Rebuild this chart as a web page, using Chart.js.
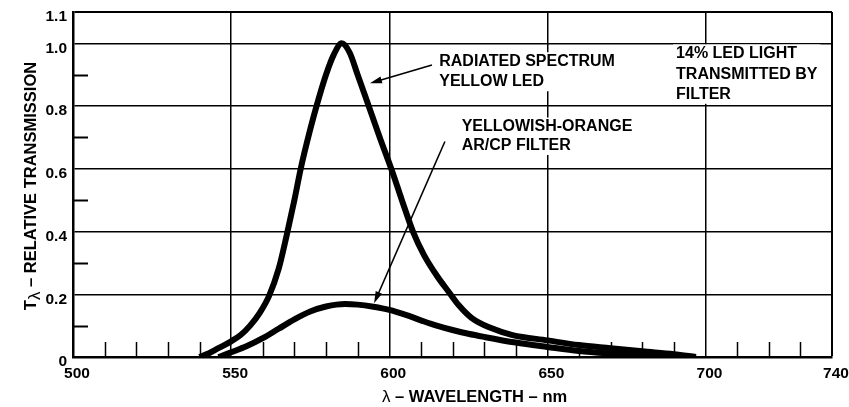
<!DOCTYPE html>
<html>
<head>
<meta charset="utf-8">
<title>Yellow LED spectrum</title>
<script src="https://cdn.jsdelivr.net/npm/chart.js@4.4.1/dist/chart.umd.min.js"></script>
<style>
  html, body { margin: 0; padding: 0; background: #fff; }
  #chart { display: block; }
</style>
</head>
<body>
<canvas id="chart" width="849" height="407"></canvas>
<script>
// relative transmission vs wavelength – yellow LED / yellowish-orange filter

const ledNm = [540, 543, 546, 550, 553, 556, 559, 562, 565, 567.5, 570, 572, 575, 577, 580, 582.5, 585, 587.5, 590, 593.5, 597, 601, 604, 607.5, 611, 615, 619, 622, 626, 632, 639, 650, 660, 670, 680, 690, 697];
const ledT  = [0, 0.012, 0.028, 0.05, 0.07, 0.1, 0.14, 0.195, 0.28, 0.385, 0.5, 0.6, 0.725, 0.8, 0.9, 0.965, 1.0, 0.97, 0.9, 0.8, 0.7, 0.59, 0.5, 0.4, 0.325, 0.26, 0.205, 0.165, 0.125, 0.093, 0.07, 0.053, 0.038, 0.028, 0.018, 0.009, 0];

const filterNm = [546, 550, 555, 560, 565, 570, 575, 580, 586, 590, 595, 600, 605, 610, 615, 620, 625, 630, 640, 650, 660, 670, 680, 690];
const filterT  = [0, 0.015, 0.035, 0.06, 0.09, 0.12, 0.145, 0.161, 0.169, 0.167, 0.16, 0.15, 0.135, 0.117, 0.1, 0.086, 0.074, 0.064, 0.046, 0.032, 0.019, 0.011, 0.005, 0];

const xTickLabels = [500, 550, 600, 650, 700, 740];
const yTickLabels = ['0', '0.2', '0.4', '0.6', '0.8', '1.0', '1.1'];

const FONT = '"Liberation Sans", Arial, Helvetica, sans-serif';

function toPoints(xs, ys) {
    return xs.map((x, i) => ({ x, y: ys[i] }));
}

// annotation anchors in data units (nm, T)
const notes = [
    { lines: ['RADIATED SPECTRUM', 'YELLOW LED'], nm: 615.8, t: 0.927, gap: 20 },
    { lines: ['YELLOWISH-ORANGE', 'AR/CP FILTER'], nm: 622.9, t: 0.719, gap: 18.5 },
    { lines: ['14% LED LIGHT', 'TRANSMITTED BY', 'FILTER'], nm: 690.7, t: 0.952, gap: 20.2 }
];
const arrows = [
    { fromNm: 613.5, fromT: 0.931, toNm: 593.9, toT: 0.873 },
    { fromNm: 617.6, fromT: 0.687, toNm: 595.2, toT: 0.171 }
];

const decorations = {
    id: 'decorations',
    beforeDatasetsDraw(chart) {
        const { ctx, chartArea, scales } = chart;
        const xs = scales.x, ys = scales.y;
        ctx.save();
        ctx.strokeStyle = '#000';
        // minor tick marks pointing into the plot
        ctx.lineWidth = 2;
        [0.1, 0.3, 0.5, 0.7, 0.9].forEach(v => {
            const y = Math.round(ys.getPixelForValue(v)) + 0.5;
            ctx.beginPath();
            ctx.moveTo(chartArea.left, y);
            ctx.lineTo(chartArea.left + 15, y);
            ctx.stroke();
        });
        ctx.lineWidth = 1.5;
        for (let v = 510; v < 740; v += 10) {
            if (v % 50 === 0) continue;
            const x = Math.round(xs.getPixelForValue(v)) + 0.5;
            ctx.beginPath();
            ctx.moveTo(x, chartArea.bottom);
            ctx.lineTo(x, chartArea.bottom - 15);
            ctx.stroke();
        }
        // white boxes behind the notes
        ctx.font = 'bold 16px ' + FONT;
        ctx.fillStyle = '#fff';
        notes.forEach(n => {
            const x = xs.getPixelForValue(n.nm);
            const y = ys.getPixelForValue(n.t);
            const w = Math.max(...n.lines.map(l => ctx.measureText(l).width));
            const h = n.gap * (n.lines.length - 1) + 12;
            ctx.fillRect(x - 3, y - 14, w + 6, h + 7);
        });
        ctx.restore();
    },
    afterDatasetsDraw(chart) {
        const { ctx, chartArea, scales } = chart;
        const xs = scales.x, ys = scales.y;
        ctx.save();
        ctx.fillStyle = '#000';
        ctx.strokeStyle = '#000';
        ctx.font = 'bold 16px ' + FONT;
        ctx.textBaseline = 'alphabetic';
        ctx.textAlign = 'left';
        notes.forEach(n => {
            const x = xs.getPixelForValue(n.nm);
            const y = ys.getPixelForValue(n.t);
            n.lines.forEach((l, i) => ctx.fillText(l, x, y + i * n.gap));
        });
        arrows.forEach(a => {
            const x0 = xs.getPixelForValue(a.fromNm), y0 = ys.getPixelForValue(a.fromT);
            const x1 = xs.getPixelForValue(a.toNm), y1 = ys.getPixelForValue(a.toT);
            const ang = Math.atan2(y1 - y0, x1 - x0);
            ctx.lineWidth = 1.6;
            ctx.beginPath();
            ctx.moveTo(x0, y0);
            ctx.lineTo(x1 - 8 * Math.cos(ang), y1 - 8 * Math.sin(ang));
            ctx.stroke();
            ctx.beginPath();
            ctx.moveTo(x1, y1);
            ctx.lineTo(x1 - 12 * Math.cos(ang) + 3.5 * Math.sin(ang), y1 - 12 * Math.sin(ang) - 3.5 * Math.cos(ang));
            ctx.lineTo(x1 - 12 * Math.cos(ang) - 3.5 * Math.sin(ang), y1 - 12 * Math.sin(ang) + 3.5 * Math.cos(ang));
            ctx.closePath();
            ctx.fill();
        });

        // axis titles (lambda drawn in regular weight, subscript on y)
        const bold = 'bold 16.5px ' + FONT;
        const thin = '17px ' + FONT;
        ctx.font = bold;
        const wT = ctx.measureText('T').width;
        const rest = ' \u2013 RELATIVE TRANSMISSION';
        const wRest = ctx.measureText(rest).width;
        ctx.font = thin;
        const wL = ctx.measureText('\u03bb').width;
        const total = wT + wL + wRest;
        const cy = (chartArea.top + chartArea.bottom) / 2 + 1.5;
        ctx.translate(36, cy);
        ctx.rotate(-Math.PI / 2);
        let px = -total / 2;
        ctx.font = bold;
        ctx.fillText('T', px, 0);
        px += wT;
        ctx.font = thin;
        ctx.fillText('\u03bb', px, 4);
        px += wL;
        ctx.font = bold;
        ctx.fillText(rest, px, 0);
        ctx.setTransform(1, 0, 0, 1, 0, 0);

        ctx.font = thin;
        ctx.fillText('\u03bb', 382, 401.5);
        const wl = ctx.measureText('\u03bb').width;
        ctx.font = bold;
        ctx.fillText(' \u2013 WAVELENGTH \u2013 nm', 382 + wl, 401.5);
        ctx.restore();
    }
};

function renderChart() {
    const ctx = document.getElementById('chart').getContext('2d');
    const lineStyle = {
        borderColor: '#000',
        borderWidth: 6,
        pointRadius: 0,
        fill: false,
        showLine: true,
        cubicInterpolationMode: 'monotone',
        borderJoinStyle: 'round'
    };
    new Chart(ctx, {
        type: 'scatter',
        data: {
            datasets: [
                Object.assign({ label: 'Radiated spectrum yellow LED', data: toPoints(ledNm, ledT) }, lineStyle),
                Object.assign({ label: 'Yellowish-orange AR/CP filter', data: toPoints(filterNm, filterT) }, lineStyle)
            ]
        },
        options: {
            responsive: false,
            animation: false,
            layout: { padding: { left: 0, top: 12, right: 17, bottom: 0 } },
            plugins: { legend: { display: false }, tooltip: { enabled: false } },
            scales: {
                x: {
                    type: 'linear',
                    min: 500,
                    max: 740,
                    afterFit: s => { s.height = 50; s.paddingRight = 0; s.paddingLeft = 0; },
                    afterBuildTicks: s => {
                        s.ticks = [];
                        for (let v = 500; v <= 740; v += 10) s.ticks.push({ value: v });
                    },
                    ticks: {
                        autoSkip: false,
                        maxRotation: 0,
                        padding: 7,
                        labelOffset: 4,
                        color: '#000',
                        font: { family: FONT, size: 15.5, weight: 'bold' },
                        callback: v => xTickLabels.includes(v) ? String(v) : ''
                    },
                    grid: {
                        drawTicks: false,
                        color: c => (c.tick && [550, 600, 650, 700, 740].includes(c.tick.value)) ? '#000' : 'rgba(0,0,0,0)',
                        lineWidth: c => (c.tick && c.tick.value === 740) ? 2 : 1.5
                    },
                    border: { color: '#000', width: 2.5 }
                },
                y: {
                    type: 'linear',
                    min: 0,
                    max: 1.1,
                    afterFit: s => { s.width = 73; s.paddingTop = 0; s.paddingBottom = 0; },
                    afterBuildTicks: s => {
                        s.ticks = [];
                        for (let i = 0; i <= 11; i++) s.ticks.push({ value: i / 10 });
                    },
                    ticks: {
                        autoSkip: false,
                        padding: 6,
                        labelOffset: 5,
                        color: '#000',
                        font: { family: FONT, size: 15.5, weight: 'bold' },
                        callback: v => {
                            const k = Math.round(v * 10);
                            if (k === 0) return yTickLabels[0];
                            if (k === 11) return yTickLabels[6];
                            return k % 2 === 0 ? yTickLabels[k / 2] : '';
                        }
                    },
                    grid: {
                        drawTicks: false,
                        color: c => {
                            if (!c.tick) return 'rgba(0,0,0,0)';
                            const k = Math.round(c.tick.value * 10);
                            return (k > 0 && (k % 2 === 0 || k === 11)) ? '#000' : 'rgba(0,0,0,0)';
                        },
                        lineWidth: c => (c.tick && Math.round(c.tick.value * 10) === 11) ? 2 : 1.5
                    },
                    border: { color: '#000', width: 2.5 }
                }
            }
        },
        plugins: [decorations]
    });
}

window.addEventListener('DOMContentLoaded', renderChart);
</script>
</body>
</html>
